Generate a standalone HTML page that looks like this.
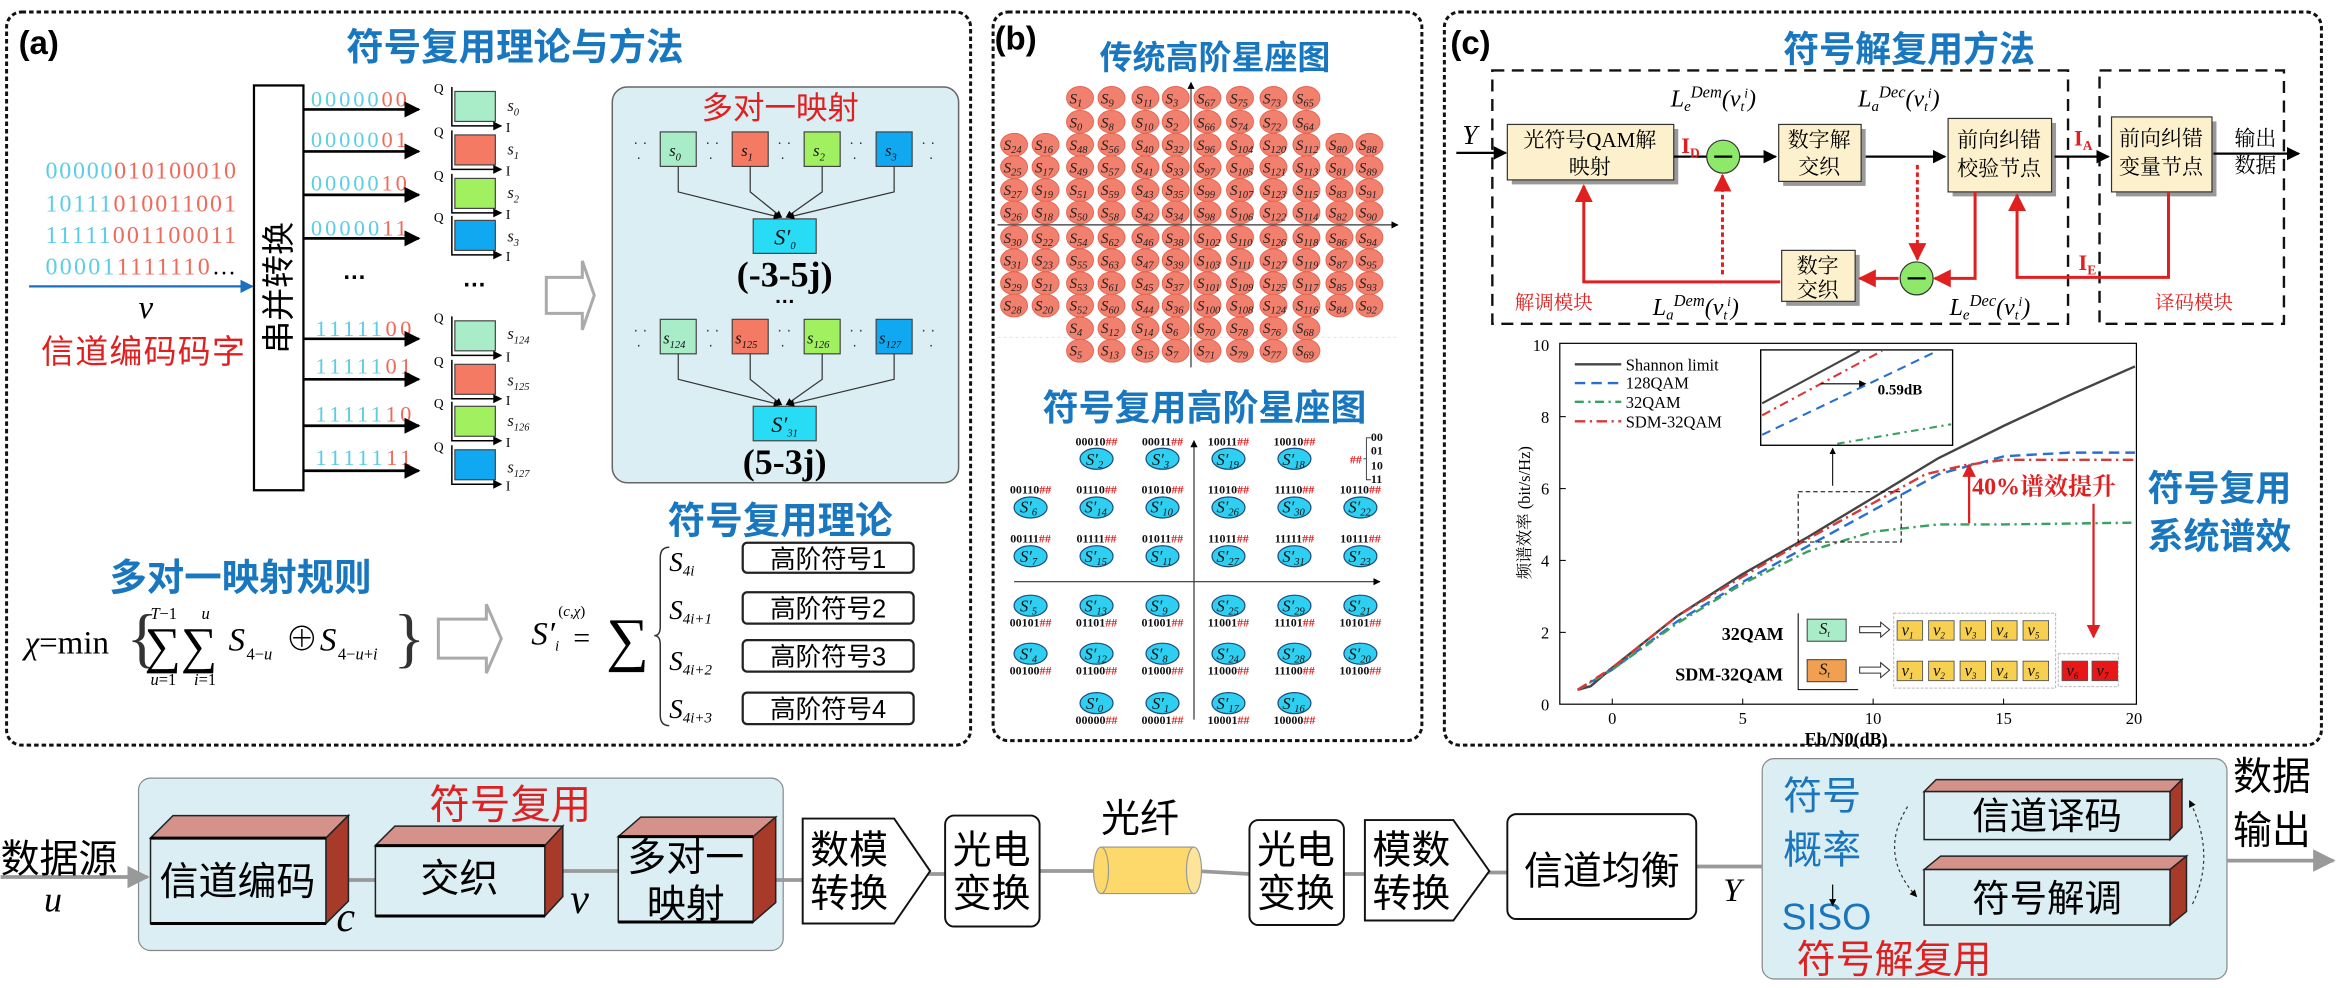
<!DOCTYPE html>
<html><head><meta charset="utf-8"><style>
html,body{margin:0;padding:0;background:#fff;}
svg{display:block}
.cj{font-family:"Liberation Sans","Noto Sans CJK SC",sans-serif}
.sf{font-family:"Liberation Serif","Noto Serif CJK SC","Noto Sans CJK SC",serif}
.bt{font-family:"Liberation Sans","Noto Sans CJK SC",sans-serif;font-weight:bold;fill:#1877bf}
.c1{font-family:"Liberation Serif",serif;font-style:italic;font-size:10px;fill:#222}
.c2{font-family:"Liberation Serif",serif;font-style:italic;font-size:11px;fill:#111}
.bb{font-family:"Liberation Serif",serif;font-weight:bold;font-size:8px;fill:#111}
.r{fill:#e02020}
.sub{font-size:7px}
</style></head><body>
<svg width="2340" height="988" viewBox="0 0 1560 659" xmlns="http://www.w3.org/2000/svg">
<defs>
<marker id="ab" viewBox="0 0 10 10" refX="9" refY="5" markerWidth="6" markerHeight="6" orient="auto"><path d="M0,0L10,5L0,10z" fill="#000"/></marker>
<marker id="ar" viewBox="0 0 10 10" refX="9" refY="5" markerWidth="6" markerHeight="6" orient="auto"><path d="M0,0L10,5L0,10z" fill="#e02020"/></marker>
<marker id="au" viewBox="0 0 10 10" refX="9" refY="5" markerWidth="6" markerHeight="6" orient="auto"><path d="M0,0L10,5L0,10z" fill="#1a6fc0"/></marker>
<marker id="ag" viewBox="0 0 10 10" refX="9" refY="5" markerWidth="6" markerHeight="6" orient="auto"><path d="M0,0L10,5L0,10z" fill="#999"/></marker>
</defs>

<!-- ===== Panel (a) ===== -->
<rect x="4" y="8" width="643" height="489" rx="10" fill="none" stroke="#111" stroke-width="2" stroke-dasharray="3,2"/>
<text x="12" y="36" class="cj" font-size="22" font-weight="bold">(a)</text>
<text x="343" y="40" class="bt" font-size="25" text-anchor="middle">符号复用理论与方法</text>

<g class="sf" font-size="16">
<text x="30" y="119" textLength="127"><tspan fill="#5ccde6">00000</tspan><tspan fill="#ef6a5a">010100010</tspan></text>
<text x="30" y="141" textLength="127"><tspan fill="#5ccde6">10111</tspan><tspan fill="#ef6a5a">010011001</tspan></text>
<text x="30" y="162" textLength="127"><tspan fill="#5ccde6">11111</tspan><tspan fill="#ef6a5a">001100011</tspan></text>
<text x="30" y="183" textLength="127"><tspan fill="#5ccde6">00001</tspan><tspan fill="#ef6a5a">1111110</tspan><tspan fill="#000">…</tspan></text>
</g>
<line x1="19" y1="191" x2="168" y2="191" stroke="#1a6fc0" stroke-width="1.5" marker-end="url(#au)"/>
<text x="92" y="212" class="sf" font-size="22" font-style="italic">v</text>
<text x="27" y="242" class="cj" font-size="22" fill="#e02020" textLength="136">信道编码码字</text>

<rect x="169" y="57" width="33" height="270" fill="#fff" stroke="#000" stroke-width="1.5"/>
<text transform="translate(193,192) rotate(-90)" class="cj" font-size="22" text-anchor="middle">串并转换</text>

<g class="sf" font-size="15">
<text x="207" y="71" textLength="64"><tspan fill="#5ccde6">00000</tspan><tspan fill="#ef6a5a">00</tspan></text>
<text x="207" y="98" textLength="64"><tspan fill="#5ccde6">00000</tspan><tspan fill="#ef6a5a">01</tspan></text>
<text x="207" y="127" textLength="64"><tspan fill="#5ccde6">00000</tspan><tspan fill="#ef6a5a">10</tspan></text>
<text x="207" y="157" textLength="64"><tspan fill="#5ccde6">00000</tspan><tspan fill="#ef6a5a">11</tspan></text>
<text x="210" y="224" textLength="64"><tspan fill="#5ccde6">11111</tspan><tspan fill="#ef6a5a">00</tspan></text>
<text x="210" y="249" textLength="64"><tspan fill="#5ccde6">11111</tspan><tspan fill="#ef6a5a">01</tspan></text>
<text x="210" y="281" textLength="64"><tspan fill="#5ccde6">11111</tspan><tspan fill="#ef6a5a">10</tspan></text>
<text x="210" y="310" textLength="64"><tspan fill="#5ccde6">11111</tspan><tspan fill="#ef6a5a">11</tspan></text>
</g>
<g stroke="#000" stroke-width="1.8" marker-end="url(#ab)">
<line x1="202" y1="73" x2="279" y2="73"/><line x1="202" y1="101" x2="279" y2="101"/>
<line x1="202" y1="130" x2="279" y2="130"/><line x1="202" y1="159" x2="279" y2="159"/>
<line x1="202" y1="226" x2="279" y2="226"/><line x1="202" y1="253" x2="279" y2="253"/>
<line x1="202" y1="284" x2="279" y2="284"/><line x1="202" y1="314" x2="279" y2="314"/>
</g>
<text x="228" y="186" font-size="16" font-weight="bold" class="cj">…</text>
<text x="308" y="191" font-size="16" font-weight="bold" class="cj">…</text>

<g stroke="#444" stroke-width="0.8">
<rect x="303" y="61" width="27" height="20" fill="#a8ecc8"/>
<rect x="303" y="90" width="27" height="20" fill="#f47a64"/>
<rect x="303" y="119" width="27" height="20" fill="#a0f060"/>
<rect x="303" y="147" width="27" height="20" fill="#10a8f0"/>
<rect x="303" y="214" width="27" height="20" fill="#a8ecc8"/>
<rect x="303" y="243" width="27" height="20" fill="#f47a64"/>
<rect x="303" y="271" width="27" height="20" fill="#a0f060"/>
<rect x="303" y="300" width="27" height="20" fill="#10a8f0"/>
</g>
<g stroke="#000" stroke-width="1" fill="none" marker-end="url(#ab)">
<path d="M301,58 V84 H334"/><path d="M301,87 V113 H334"/><path d="M301,116 V142 H334"/><path d="M301,144 V170 H334"/>
<path d="M301,211 V237 H334"/><path d="M301,240 V266 H334"/><path d="M301,268 V294 H334"/><path d="M301,297 V323 H334"/>
</g>
<g class="sf" font-size="9"><text x="289" y="62">Q</text><text x="289" y="91">Q</text><text x="289" y="120">Q</text><text x="289" y="148">Q</text>
<text x="289" y="215">Q</text><text x="289" y="244">Q</text><text x="289" y="272">Q</text><text x="289" y="301">Q</text>
<text x="337" y="88">I</text><text x="337" y="117">I</text><text x="337" y="146">I</text><text x="337" y="174">I</text>
<text x="337" y="241">I</text><text x="337" y="270">I</text><text x="337" y="298">I</text><text x="337" y="327">I</text></g>
<g class="c2"><text x="338" y="74">s<tspan class="sub" dy="3">0</tspan></text><text x="338" y="103">s<tspan class="sub" dy="3">1</tspan></text>
<text x="338" y="132">s<tspan class="sub" dy="3">2</tspan></text><text x="338" y="161">s<tspan class="sub" dy="3">3</tspan></text>
<text x="338" y="226">s<tspan class="sub" dy="3">124</tspan></text><text x="338" y="257">s<tspan class="sub" dy="3">125</tspan></text>
<text x="338" y="284">s<tspan class="sub" dy="3">126</tspan></text><text x="338" y="315">s<tspan class="sub" dy="3">127</tspan></text></g>

<polygon points="364,185 388,185 388,174 396,197 388,220 388,209 364,209" fill="#fff" stroke="#aaa" stroke-width="2"/>

<rect x="408" y="58" width="231" height="264" rx="10" fill="#dbeef4" stroke="#666" stroke-width="1"/>
<text x="520" y="79" class="cj" font-size="21" fill="#e02020" text-anchor="middle">多对一映射</text>
<g stroke="#444" stroke-width="0.8">
<rect x="440" y="88" width="24" height="23" fill="#a8ecc8"/><rect x="488" y="88" width="24" height="23" fill="#f47a64"/>
<rect x="536" y="88" width="24" height="23" fill="#a0f060"/><rect x="584" y="88" width="24" height="23" fill="#10a8f0"/>
<rect x="440" y="213" width="24" height="23" fill="#a8ecc8"/><rect x="488" y="213" width="24" height="23" fill="#f47a64"/>
<rect x="536" y="213" width="24" height="23" fill="#a0f060"/><rect x="584" y="213" width="24" height="23" fill="#10a8f0"/>
<rect x="502" y="146" width="42" height="23" fill="#28dcf6"/><rect x="502" y="271" width="42" height="23" fill="#28dcf6"/>
</g>
<g class="cj" font-size="10" fill="#333"><text x="422" y="98">· ·</text><text x="424" y="108">·</text><text x="470" y="98">· ·</text><text x="472" y="108">·</text><text x="518" y="98">· ·</text><text x="520" y="108">·</text><text x="566" y="98">· ·</text><text x="568" y="108">·</text><text x="614" y="98">· ·</text><text x="619" y="108">·</text>
<text x="422" y="223">· ·</text><text x="424" y="233">·</text><text x="470" y="223">· ·</text><text x="472" y="233">·</text><text x="518" y="223">· ·</text><text x="520" y="233">·</text><text x="566" y="223">· ·</text><text x="568" y="233">·</text><text x="614" y="223">· ·</text><text x="619" y="233">·</text></g>
<g class="c2" font-size="13"><text x="446" y="104">s<tspan class="sub" dy="3">0</tspan></text><text x="494" y="104">s<tspan class="sub" dy="3">1</tspan></text>
<text x="542" y="104">s<tspan class="sub" dy="3">2</tspan></text><text x="590" y="104">s<tspan class="sub" dy="3">3</tspan></text>
<text x="442" y="229">s<tspan class="sub" dy="3">124</tspan></text><text x="490" y="229">s<tspan class="sub" dy="3">125</tspan></text>
<text x="538" y="229">s<tspan class="sub" dy="3">126</tspan></text><text x="586" y="229">s<tspan class="sub" dy="3">127</tspan></text>
<text x="516" y="163" font-size="15">S′<tspan class="sub" dy="3">0</tspan></text><text x="514" y="288" font-size="15">S′<tspan class="sub" dy="3">31</tspan></text></g>
<g stroke="#333" stroke-width="0.8" fill="none" marker-end="url(#ab)">
<path d="M452,111 V128 L520,145"/><path d="M500,111 V128 L521,145"/><path d="M548,111 V128 L524,145"/><path d="M596,111 V128 L525,145"/>
<path d="M452,236 V253 L520,270"/><path d="M500,236 V253 L521,270"/><path d="M548,236 V253 L524,270"/><path d="M596,236 V253 L525,270"/>
</g>
<text x="523" y="191" class="sf" font-size="24" font-weight="bold" text-anchor="middle">(-3-5j)</text>
<text x="523" y="202" class="cj" font-size="14" font-weight="bold" text-anchor="middle">…</text>
<text x="523" y="316" class="sf" font-size="24" font-weight="bold" text-anchor="middle">(5-3j)</text>

<text x="520" y="356" class="bt" font-size="25" text-anchor="middle">符号复用理论</text>
<text x="160" y="394" class="bt" font-size="25" text-anchor="middle">多对一映射规则</text>

<g class="sf">
<text x="16" y="436" font-size="22"><tspan font-style="italic">χ</tspan>=min</text>
<text x="84" y="440" font-size="44" fill="#333">{</text>
<text x="96" y="442" font-size="34">∑∑</text>
<text x="100" y="413" font-size="11" font-style="italic">T</text><text x="106" y="413" font-size="11">−1</text>
<text x="134" y="413" font-size="11" font-style="italic">u</text>
<text x="100" y="457" font-size="11"><tspan font-style="italic">u</tspan>=1</text>
<text x="129" y="457" font-size="11"><tspan font-style="italic">i</tspan>=1</text>
<text x="152" y="434" font-size="22" font-style="italic">S</text><text x="164" y="440" font-size="11">4−<tspan font-style="italic">u</tspan></text>
<text x="190" y="434" font-size="22">⊕</text>
<text x="213" y="434" font-size="22" font-style="italic">S</text><text x="225" y="440" font-size="11">4−<tspan font-style="italic">u</tspan>+<tspan font-style="italic">i</tspan></text>
<text x="262" y="440" font-size="44" fill="#333">}</text>
</g>
<polygon points="292,413 324,413 324,403 334,426 324,449 324,439 292,439" fill="#fff" stroke="#aaa" stroke-width="2"/>

<g class="sf">
<text x="354" y="430" font-size="22" font-style="italic">S′<tspan font-size="10" dy="4">i</tspan></text>
<text x="372" y="411" font-size="10">(<tspan font-style="italic">c</tspan>,<tspan font-style="italic">χ</tspan>)</text>
<text x="382" y="432" font-size="20">=</text>
<text x="404" y="440" font-size="40">∑</text>
<path d="M446,365 Q440,365 440,372 V418 Q440,424 436,424 Q440,424 440,430 V477 Q440,484 446,484" fill="none" stroke="#333" stroke-width="1"/>
<text x="446" y="381" font-size="18" font-style="italic">S<tspan font-size="10" dy="3">4i</tspan></text>
<text x="446" y="413" font-size="18" font-style="italic">S<tspan font-size="10" dy="3">4i+1</tspan></text>
<text x="446" y="447" font-size="18" font-style="italic">S<tspan font-size="10" dy="3">4i+2</tspan></text>
<text x="446" y="479" font-size="18" font-style="italic">S<tspan font-size="10" dy="3">4i+3</tspan></text>
</g>
<g fill="#fff" stroke="#222" stroke-width="1.5">
<rect x="495" y="362" width="114" height="20" rx="3"/><rect x="495" y="395" width="114" height="21" rx="3"/>
<rect x="495" y="427" width="114" height="21" rx="3"/><rect x="495" y="462" width="114" height="21" rx="3"/></g>
<g class="cj" font-size="17" text-anchor="middle"><text x="552" y="379">高阶符号1</text><text x="552" y="412">高阶符号2</text><text x="552" y="444">高阶符号3</text><text x="552" y="479">高阶符号4</text></g>

<!-- ===== Panel (b) ===== -->
<rect x="662" y="8" width="286" height="486" rx="10" fill="none" stroke="#111" stroke-width="2" stroke-dasharray="3,2"/>
<text x="663" y="33" class="cj" font-size="22" font-weight="bold">(b)</text>
<text x="810" y="46" class="bt" font-size="22" text-anchor="middle">传统高阶星座图</text>
<line x1="665" y1="150" x2="932" y2="150" stroke="#333" stroke-width="0.8" marker-end="url(#ab)"/>
<line x1="794" y1="245" x2="794" y2="55" stroke="#333" stroke-width="0.8" marker-end="url(#ab)"/>
<line x1="665" y1="225" x2="932" y2="225" stroke="#ddd" stroke-width="0.6" stroke-dasharray="2,2"/>
<g fill="#f2806e" stroke="#e4624e" stroke-width="0.6">
<ellipse cx="676" cy="96.5" rx="9" ry="7.6"/><ellipse cx="676" cy="111.5" rx="9" ry="7.6"/><ellipse cx="676" cy="126.8" rx="9" ry="7.6"/><ellipse cx="676" cy="141.7" rx="9" ry="7.6"/><ellipse cx="676" cy="158.3" rx="9" ry="7.6"/><ellipse cx="676" cy="173.6" rx="9" ry="7.6"/><ellipse cx="676" cy="188.9" rx="9" ry="7.6"/><ellipse cx="676" cy="203.8" rx="9" ry="7.6"/>
<ellipse cx="697" cy="96.5" rx="9" ry="7.6"/><ellipse cx="697" cy="111.5" rx="9" ry="7.6"/><ellipse cx="697" cy="126.8" rx="9" ry="7.6"/><ellipse cx="697" cy="141.7" rx="9" ry="7.6"/><ellipse cx="697" cy="158.3" rx="9" ry="7.6"/><ellipse cx="697" cy="173.6" rx="9" ry="7.6"/><ellipse cx="697" cy="188.9" rx="9" ry="7.6"/><ellipse cx="697" cy="203.8" rx="9" ry="7.6"/>
<ellipse cx="893" cy="96.5" rx="9" ry="7.6"/><ellipse cx="893" cy="111.5" rx="9" ry="7.6"/><ellipse cx="893" cy="126.8" rx="9" ry="7.6"/><ellipse cx="893" cy="141.7" rx="9" ry="7.6"/><ellipse cx="893" cy="158.3" rx="9" ry="7.6"/><ellipse cx="893" cy="173.6" rx="9" ry="7.6"/><ellipse cx="893" cy="188.9" rx="9" ry="7.6"/><ellipse cx="893" cy="203.8" rx="9" ry="7.6"/>
<ellipse cx="913" cy="96.5" rx="9" ry="7.6"/><ellipse cx="913" cy="111.5" rx="9" ry="7.6"/><ellipse cx="913" cy="126.8" rx="9" ry="7.6"/><ellipse cx="913" cy="141.7" rx="9" ry="7.6"/><ellipse cx="913" cy="158.3" rx="9" ry="7.6"/><ellipse cx="913" cy="173.6" rx="9" ry="7.6"/><ellipse cx="913" cy="188.9" rx="9" ry="7.6"/><ellipse cx="913" cy="203.8" rx="9" ry="7.6"/>
</g>
<g fill="#f2806e" stroke="#e4624e" stroke-width="0.6">
<g id="colA"><ellipse cx="720" cy="65.3" rx="9" ry="7.6"/><ellipse cx="720" cy="81.2" rx="9" ry="7.6"/><ellipse cx="720" cy="96.5" rx="9" ry="7.6"/><ellipse cx="720" cy="111.5" rx="9" ry="7.6"/><ellipse cx="720" cy="126.8" rx="9" ry="7.6"/><ellipse cx="720" cy="141.7" rx="9" ry="7.6"/><ellipse cx="720" cy="158.3" rx="9" ry="7.6"/><ellipse cx="720" cy="173.6" rx="9" ry="7.6"/><ellipse cx="720" cy="188.9" rx="9" ry="7.6"/><ellipse cx="720" cy="203.8" rx="9" ry="7.6"/><ellipse cx="720" cy="219.1" rx="9" ry="7.6"/><ellipse cx="720" cy="234" rx="9" ry="7.6"/></g>
<use href="#colA" x="21"/><use href="#colA" x="43.6"/><use href="#colA" x="63.8"/><use href="#colA" x="85"/><use href="#colA" x="106.7"/><use href="#colA" x="129"/><use href="#colA" x="151"/>
</g>
<g class="c1">
<text x="669" y="100">S<tspan class="sub" dy="2">24</tspan></text><text x="669" y="115">S<tspan class="sub" dy="2">25</tspan></text><text x="669" y="130">S<tspan class="sub" dy="2">27</tspan></text><text x="669" y="145">S<tspan class="sub" dy="2">26</tspan></text><text x="669" y="162">S<tspan class="sub" dy="2">30</tspan></text><text x="669" y="177">S<tspan class="sub" dy="2">31</tspan></text><text x="669" y="192">S<tspan class="sub" dy="2">29</tspan></text><text x="669" y="207">S<tspan class="sub" dy="2">28</tspan></text>
<text x="690" y="100">S<tspan class="sub" dy="2">16</tspan></text><text x="690" y="115">S<tspan class="sub" dy="2">17</tspan></text><text x="690" y="130">S<tspan class="sub" dy="2">19</tspan></text><text x="690" y="145">S<tspan class="sub" dy="2">18</tspan></text><text x="690" y="162">S<tspan class="sub" dy="2">22</tspan></text><text x="690" y="177">S<tspan class="sub" dy="2">23</tspan></text><text x="690" y="192">S<tspan class="sub" dy="2">21</tspan></text><text x="690" y="207">S<tspan class="sub" dy="2">20</tspan></text>
<text x="713" y="69">S<tspan class="sub" dy="2">1</tspan></text><text x="713" y="85">S<tspan class="sub" dy="2">0</tspan></text><text x="713" y="100">S<tspan class="sub" dy="2">48</tspan></text><text x="713" y="115">S<tspan class="sub" dy="2">49</tspan></text><text x="713" y="130">S<tspan class="sub" dy="2">51</tspan></text><text x="713" y="145">S<tspan class="sub" dy="2">50</tspan></text><text x="713" y="162">S<tspan class="sub" dy="2">54</tspan></text><text x="713" y="177">S<tspan class="sub" dy="2">55</tspan></text><text x="713" y="192">S<tspan class="sub" dy="2">53</tspan></text><text x="713" y="207">S<tspan class="sub" dy="2">52</tspan></text><text x="713" y="222">S<tspan class="sub" dy="2">4</tspan></text><text x="713" y="237">S<tspan class="sub" dy="2">5</tspan></text>
<text x="734" y="69">S<tspan class="sub" dy="2">9</tspan></text><text x="734" y="85">S<tspan class="sub" dy="2">8</tspan></text><text x="734" y="100">S<tspan class="sub" dy="2">56</tspan></text><text x="734" y="115">S<tspan class="sub" dy="2">57</tspan></text><text x="734" y="130">S<tspan class="sub" dy="2">59</tspan></text><text x="734" y="145">S<tspan class="sub" dy="2">58</tspan></text><text x="734" y="162">S<tspan class="sub" dy="2">62</tspan></text><text x="734" y="177">S<tspan class="sub" dy="2">63</tspan></text><text x="734" y="192">S<tspan class="sub" dy="2">61</tspan></text><text x="734" y="207">S<tspan class="sub" dy="2">60</tspan></text><text x="734" y="222">S<tspan class="sub" dy="2">12</tspan></text><text x="734" y="237">S<tspan class="sub" dy="2">13</tspan></text>
<text x="757" y="69">S<tspan class="sub" dy="2">11</tspan></text><text x="757" y="85">S<tspan class="sub" dy="2">10</tspan></text><text x="757" y="100">S<tspan class="sub" dy="2">40</tspan></text><text x="757" y="115">S<tspan class="sub" dy="2">41</tspan></text><text x="757" y="130">S<tspan class="sub" dy="2">43</tspan></text><text x="757" y="145">S<tspan class="sub" dy="2">42</tspan></text><text x="757" y="162">S<tspan class="sub" dy="2">46</tspan></text><text x="757" y="177">S<tspan class="sub" dy="2">47</tspan></text><text x="757" y="192">S<tspan class="sub" dy="2">45</tspan></text><text x="757" y="207">S<tspan class="sub" dy="2">44</tspan></text><text x="757" y="222">S<tspan class="sub" dy="2">14</tspan></text><text x="757" y="237">S<tspan class="sub" dy="2">15</tspan></text>
<text x="777" y="69">S<tspan class="sub" dy="2">3</tspan></text><text x="777" y="85">S<tspan class="sub" dy="2">2</tspan></text><text x="777" y="100">S<tspan class="sub" dy="2">32</tspan></text><text x="777" y="115">S<tspan class="sub" dy="2">33</tspan></text><text x="777" y="130">S<tspan class="sub" dy="2">35</tspan></text><text x="777" y="145">S<tspan class="sub" dy="2">34</tspan></text><text x="777" y="162">S<tspan class="sub" dy="2">38</tspan></text><text x="777" y="177">S<tspan class="sub" dy="2">39</tspan></text><text x="777" y="192">S<tspan class="sub" dy="2">37</tspan></text><text x="777" y="207">S<tspan class="sub" dy="2">36</tspan></text><text x="777" y="222">S<tspan class="sub" dy="2">6</tspan></text><text x="777" y="237">S<tspan class="sub" dy="2">7</tspan></text>
<text x="798" y="69">S<tspan class="sub" dy="2">67</tspan></text><text x="798" y="85">S<tspan class="sub" dy="2">66</tspan></text><text x="798" y="100">S<tspan class="sub" dy="2">96</tspan></text><text x="798" y="115">S<tspan class="sub" dy="2">97</tspan></text><text x="798" y="130">S<tspan class="sub" dy="2">99</tspan></text><text x="798" y="145">S<tspan class="sub" dy="2">98</tspan></text><text x="798" y="162">S<tspan class="sub" dy="2">102</tspan></text><text x="798" y="177">S<tspan class="sub" dy="2">103</tspan></text><text x="798" y="192">S<tspan class="sub" dy="2">101</tspan></text><text x="798" y="207">S<tspan class="sub" dy="2">100</tspan></text><text x="798" y="222">S<tspan class="sub" dy="2">70</tspan></text><text x="798" y="237">S<tspan class="sub" dy="2">71</tspan></text>
<text x="820" y="69">S<tspan class="sub" dy="2">75</tspan></text><text x="820" y="85">S<tspan class="sub" dy="2">74</tspan></text><text x="820" y="100">S<tspan class="sub" dy="2">104</tspan></text><text x="820" y="115">S<tspan class="sub" dy="2">105</tspan></text><text x="820" y="130">S<tspan class="sub" dy="2">107</tspan></text><text x="820" y="145">S<tspan class="sub" dy="2">106</tspan></text><text x="820" y="162">S<tspan class="sub" dy="2">110</tspan></text><text x="820" y="177">S<tspan class="sub" dy="2">111</tspan></text><text x="820" y="192">S<tspan class="sub" dy="2">109</tspan></text><text x="820" y="207">S<tspan class="sub" dy="2">108</tspan></text><text x="820" y="222">S<tspan class="sub" dy="2">78</tspan></text><text x="820" y="237">S<tspan class="sub" dy="2">79</tspan></text>
<text x="842" y="69">S<tspan class="sub" dy="2">73</tspan></text><text x="842" y="85">S<tspan class="sub" dy="2">72</tspan></text><text x="842" y="100">S<tspan class="sub" dy="2">120</tspan></text><text x="842" y="115">S<tspan class="sub" dy="2">121</tspan></text><text x="842" y="130">S<tspan class="sub" dy="2">123</tspan></text><text x="842" y="145">S<tspan class="sub" dy="2">122</tspan></text><text x="842" y="162">S<tspan class="sub" dy="2">126</tspan></text><text x="842" y="177">S<tspan class="sub" dy="2">127</tspan></text><text x="842" y="192">S<tspan class="sub" dy="2">125</tspan></text><text x="842" y="207">S<tspan class="sub" dy="2">124</tspan></text><text x="842" y="222">S<tspan class="sub" dy="2">76</tspan></text><text x="842" y="237">S<tspan class="sub" dy="2">77</tspan></text>
<text x="864" y="69">S<tspan class="sub" dy="2">65</tspan></text><text x="864" y="85">S<tspan class="sub" dy="2">64</tspan></text><text x="864" y="100">S<tspan class="sub" dy="2">112</tspan></text><text x="864" y="115">S<tspan class="sub" dy="2">113</tspan></text><text x="864" y="130">S<tspan class="sub" dy="2">115</tspan></text><text x="864" y="145">S<tspan class="sub" dy="2">114</tspan></text><text x="864" y="162">S<tspan class="sub" dy="2">118</tspan></text><text x="864" y="177">S<tspan class="sub" dy="2">119</tspan></text><text x="864" y="192">S<tspan class="sub" dy="2">117</tspan></text><text x="864" y="207">S<tspan class="sub" dy="2">116</tspan></text><text x="864" y="222">S<tspan class="sub" dy="2">68</tspan></text><text x="864" y="237">S<tspan class="sub" dy="2">69</tspan></text>
<text x="886" y="100">S<tspan class="sub" dy="2">80</tspan></text><text x="886" y="115">S<tspan class="sub" dy="2">81</tspan></text><text x="886" y="130">S<tspan class="sub" dy="2">83</tspan></text><text x="886" y="145">S<tspan class="sub" dy="2">82</tspan></text><text x="886" y="162">S<tspan class="sub" dy="2">86</tspan></text><text x="886" y="177">S<tspan class="sub" dy="2">87</tspan></text><text x="886" y="192">S<tspan class="sub" dy="2">85</tspan></text><text x="886" y="207">S<tspan class="sub" dy="2">84</tspan></text>
<text x="906" y="100">S<tspan class="sub" dy="2">88</tspan></text><text x="906" y="115">S<tspan class="sub" dy="2">89</tspan></text><text x="906" y="130">S<tspan class="sub" dy="2">91</tspan></text><text x="906" y="145">S<tspan class="sub" dy="2">90</tspan></text><text x="906" y="162">S<tspan class="sub" dy="2">94</tspan></text><text x="906" y="177">S<tspan class="sub" dy="2">95</tspan></text><text x="906" y="192">S<tspan class="sub" dy="2">93</tspan></text><text x="906" y="207">S<tspan class="sub" dy="2">92</tspan></text>
</g>

<text x="803" y="280" class="bt" font-size="24" text-anchor="middle">符号复用高阶星座图</text>
<line x1="676" y1="388" x2="920" y2="388" stroke="#333" stroke-width="0.8" marker-end="url(#ab)"/>
<line x1="796" y1="480" x2="796" y2="294" stroke="#333" stroke-width="0.8" marker-end="url(#ab)"/>
<g fill="#2ecff0" stroke="#1a4a80" stroke-width="0.8">
<ellipse cx="731" cy="306" rx="11" ry="7"/><ellipse cx="775" cy="306" rx="11" ry="7"/><ellipse cx="819" cy="306" rx="11" ry="7"/><ellipse cx="863" cy="306" rx="11" ry="7"/>
<ellipse cx="687" cy="338.5" rx="11" ry="7"/><ellipse cx="731" cy="338.5" rx="11" ry="7"/><ellipse cx="775" cy="338.5" rx="11" ry="7"/><ellipse cx="819" cy="338.5" rx="11" ry="7"/><ellipse cx="863" cy="338.5" rx="11" ry="7"/><ellipse cx="907" cy="338.5" rx="11" ry="7"/>
<ellipse cx="687" cy="371" rx="11" ry="7"/><ellipse cx="731" cy="371" rx="11" ry="7"/><ellipse cx="775" cy="371" rx="11" ry="7"/><ellipse cx="819" cy="371" rx="11" ry="7"/><ellipse cx="863" cy="371" rx="11" ry="7"/><ellipse cx="907" cy="371" rx="11" ry="7"/>
<ellipse cx="687" cy="404" rx="11" ry="7"/><ellipse cx="731" cy="404" rx="11" ry="7"/><ellipse cx="775" cy="404" rx="11" ry="7"/><ellipse cx="819" cy="404" rx="11" ry="7"/><ellipse cx="863" cy="404" rx="11" ry="7"/><ellipse cx="907" cy="404" rx="11" ry="7"/>
<ellipse cx="687" cy="436" rx="11" ry="7"/><ellipse cx="731" cy="436" rx="11" ry="7"/><ellipse cx="775" cy="436" rx="11" ry="7"/><ellipse cx="819" cy="436" rx="11" ry="7"/><ellipse cx="863" cy="436" rx="11" ry="7"/><ellipse cx="907" cy="436" rx="11" ry="7"/>
<ellipse cx="731" cy="469" rx="11" ry="7"/><ellipse cx="775" cy="469" rx="11" ry="7"/><ellipse cx="819" cy="469" rx="11" ry="7"/><ellipse cx="863" cy="469" rx="11" ry="7"/>
</g>
<g class="c2">
<text x="724" y="310">S′<tspan class="sub" dy="2">2</tspan></text><text x="768" y="310">S′<tspan class="sub" dy="2">3</tspan></text><text x="811" y="310">S′<tspan class="sub" dy="2">19</tspan></text><text x="855" y="310">S′<tspan class="sub" dy="2">18</tspan></text>
<text x="680" y="342">S′<tspan class="sub" dy="2">6</tspan></text><text x="723" y="342">S′<tspan class="sub" dy="2">14</tspan></text><text x="767" y="342">S′<tspan class="sub" dy="2">10</tspan></text><text x="811" y="342">S′<tspan class="sub" dy="2">26</tspan></text><text x="855" y="342">S′<tspan class="sub" dy="2">30</tspan></text><text x="899" y="342">S′<tspan class="sub" dy="2">22</tspan></text>
<text x="680" y="375">S′<tspan class="sub" dy="2">7</tspan></text><text x="723" y="375">S′<tspan class="sub" dy="2">15</tspan></text><text x="767" y="375">S′<tspan class="sub" dy="2">11</tspan></text><text x="811" y="375">S′<tspan class="sub" dy="2">27</tspan></text><text x="855" y="375">S′<tspan class="sub" dy="2">31</tspan></text><text x="899" y="375">S′<tspan class="sub" dy="2">23</tspan></text>
<text x="680" y="408">S′<tspan class="sub" dy="2">5</tspan></text><text x="723" y="408">S′<tspan class="sub" dy="2">13</tspan></text><text x="767" y="408">S′<tspan class="sub" dy="2">9</tspan></text><text x="811" y="408">S′<tspan class="sub" dy="2">25</tspan></text><text x="855" y="408">S′<tspan class="sub" dy="2">29</tspan></text><text x="899" y="408">S′<tspan class="sub" dy="2">21</tspan></text>
<text x="680" y="440">S′<tspan class="sub" dy="2">4</tspan></text><text x="723" y="440">S′<tspan class="sub" dy="2">12</tspan></text><text x="767" y="440">S′<tspan class="sub" dy="2">8</tspan></text><text x="811" y="440">S′<tspan class="sub" dy="2">24</tspan></text><text x="855" y="440">S′<tspan class="sub" dy="2">28</tspan></text><text x="899" y="440">S′<tspan class="sub" dy="2">20</tspan></text>
<text x="724" y="473">S′<tspan class="sub" dy="2">0</tspan></text><text x="768" y="473">S′<tspan class="sub" dy="2">1</tspan></text><text x="811" y="473">S′<tspan class="sub" dy="2">17</tspan></text><text x="855" y="473">S′<tspan class="sub" dy="2">16</tspan></text>
</g>
<g class="bb" text-anchor="middle">
<text x="731" y="297">00010<tspan class="r">##</tspan></text><text x="775" y="297">00011<tspan class="r">##</tspan></text><text x="819" y="297">10011<tspan class="r">##</tspan></text><text x="863" y="297">10010<tspan class="r">##</tspan></text>
<text x="687" y="329">00110<tspan class="r">##</tspan></text><text x="731" y="329">01110<tspan class="r">##</tspan></text><text x="775" y="329">01010<tspan class="r">##</tspan></text><text x="819" y="329">11010<tspan class="r">##</tspan></text><text x="863" y="329">11110<tspan class="r">##</tspan></text><text x="907" y="329">10110<tspan class="r">##</tspan></text>
<text x="687" y="362">00111<tspan class="r">##</tspan></text><text x="731" y="362">01111<tspan class="r">##</tspan></text><text x="775" y="362">01011<tspan class="r">##</tspan></text><text x="819" y="362">11011<tspan class="r">##</tspan></text><text x="863" y="362">11111<tspan class="r">##</tspan></text><text x="907" y="362">10111<tspan class="r">##</tspan></text>
<text x="687" y="418">00101<tspan class="r">##</tspan></text><text x="731" y="418">01101<tspan class="r">##</tspan></text><text x="775" y="418">01001<tspan class="r">##</tspan></text><text x="819" y="418">11001<tspan class="r">##</tspan></text><text x="863" y="418">11101<tspan class="r">##</tspan></text><text x="907" y="418">10101<tspan class="r">##</tspan></text>
<text x="687" y="450">00100<tspan class="r">##</tspan></text><text x="731" y="450">01100<tspan class="r">##</tspan></text><text x="775" y="450">01000<tspan class="r">##</tspan></text><text x="819" y="450">11000<tspan class="r">##</tspan></text><text x="863" y="450">11100<tspan class="r">##</tspan></text><text x="907" y="450">10100<tspan class="r">##</tspan></text>
<text x="731" y="483">00000<tspan class="r">##</tspan></text><text x="775" y="483">00001<tspan class="r">##</tspan></text><text x="819" y="483">10001<tspan class="r">##</tspan></text><text x="863" y="483">10000<tspan class="r">##</tspan></text>
</g>
<text x="900" y="309" class="bb r">##</text>
<path d="M914,292 H911 V320 H914 M909,306 H911" fill="none" stroke="#333" stroke-width="0.6"/>
<g class="bb"><text x="914" y="294">00</text><text x="914" y="303">01</text><text x="914" y="313">10</text><text x="914" y="322">11</text></g>

<!-- ===== Panel (c) ===== -->
<rect x="963" y="8" width="585" height="489" rx="10" fill="none" stroke="#111" stroke-width="2" stroke-dasharray="3,2"/>
<text x="967" y="36" class="cj" font-size="22" font-weight="bold">(c)</text>
<text x="1273" y="41" class="bt" font-size="24" text-anchor="middle">符号解复用方法</text>
<rect x="995" y="47" width="384" height="169" fill="none" stroke="#111" stroke-width="1.6" stroke-dasharray="8,5"/>
<rect x="1400" y="47" width="123" height="169" fill="none" stroke="#111" stroke-width="1.6" stroke-dasharray="8,5"/>
<g fill="#999"><rect x="1008" y="86" width="111" height="37"/><rect x="1189" y="86" width="55" height="38"/><rect x="1302" y="82" width="69" height="49"/><rect x="1411" y="81" width="67" height="50"/><rect x="1191" y="170" width="49" height="34"/></g>
<g fill="#fdf0cc" stroke="#333" stroke-width="0.8">
<rect x="1005" y="83" width="111" height="37"/><rect x="1186" y="83" width="55" height="38"/><rect x="1299" y="79" width="69" height="49"/><rect x="1408" y="78" width="67" height="50"/><rect x="1188" y="167" width="49" height="34"/></g>
<g class="sf" font-size="14" text-anchor="middle">
<text x="1060" y="98">光符号QAM解</text><text x="1060" y="116">映射</text>
<text x="1213" y="98">数字解</text><text x="1213" y="116">交织</text>
<text x="1333" y="98">前向纠错</text><text x="1333" y="117">校验节点</text>
<text x="1441" y="97">前向纠错</text><text x="1441" y="116">变量节点</text>
<text x="1212" y="182">数字</text><text x="1212" y="198">交织</text>
<text x="1504" y="97">输出</text><text x="1504" y="115">数据</text>
</g>
<text x="975" y="96" class="sf" font-size="18" font-style="italic">Y</text>
<g stroke="#000" stroke-width="1.5" marker-end="url(#ab)">
<line x1="971" y1="102" x2="1004" y2="102"/><line x1="1160" y1="104.5" x2="1184" y2="104.5"/>
<line x1="1244" y1="104.5" x2="1297" y2="104.5"/><line x1="1370" y1="104.5" x2="1406" y2="104.5"/>
<line x1="1476" y1="102.5" x2="1533" y2="102.5"/></g>
<line x1="1116" y1="104.5" x2="1138" y2="104.5" stroke="#000" stroke-width="1.5"/>
<circle cx="1149" cy="104.5" r="11" fill="#8ee86a" stroke="#333" stroke-width="0.8"/>
<line x1="1143" y1="104.5" x2="1155" y2="104.5" stroke="#000" stroke-width="1.5"/>
<circle cx="1278" cy="185.7" r="11" fill="#8ee86a" stroke="#333" stroke-width="0.8"/>
<line x1="1272" y1="185.7" x2="1284" y2="185.7" stroke="#000" stroke-width="1.5"/>
<text x="1121" y="102" class="sf" font-size="15" font-weight="bold" fill="#e02020">I<tspan font-size="9" dy="3">D</tspan></text>
<text x="1383" y="97" class="sf" font-size="15" font-weight="bold" fill="#e02020">I<tspan font-size="9" dy="3">A</tspan></text>
<text x="1386" y="180" class="sf" font-size="15" font-weight="bold" fill="#e02020">I<tspan font-size="9" dy="3">E</tspan></text>
<g stroke="#e02020" stroke-width="2" fill="none" marker-end="url(#ar)">
<line x1="1148.5" y1="183" x2="1148.5" y2="117" stroke-dasharray="3,2"/>
<line x1="1278.5" y1="110" x2="1278.5" y2="173" stroke-dasharray="3,2"/>
<path d="M1317,128 V185.7 H1290"/>
<path d="M1266,185.7 H1240"/>
<path d="M1187,188 H1056 V124"/>
<path d="M1446,128 V185 H1345 V130"/>
</g>
<g class="sf" font-size="16" font-style="italic">
<text x="1114" y="71">L<tspan font-size="10" dy="3">e</tspan><tspan font-size="11" dy="-9">Dem</tspan><tspan dy="6">(v</tspan><tspan font-size="9" dy="3">t</tspan><tspan font-size="9" dy="-9">i</tspan><tspan dy="6">)</tspan></text>
<text x="1239" y="71">L<tspan font-size="10" dy="3">a</tspan><tspan font-size="11" dy="-9">Dec</tspan><tspan dy="6">(v</tspan><tspan font-size="9" dy="3">t</tspan><tspan font-size="9" dy="-9">i</tspan><tspan dy="6">)</tspan></text>
<text x="1102" y="210">L<tspan font-size="10" dy="3">a</tspan><tspan font-size="11" dy="-9">Dem</tspan><tspan dy="6">(v</tspan><tspan font-size="9" dy="3">t</tspan><tspan font-size="9" dy="-9">i</tspan><tspan dy="6">)</tspan></text>
<text x="1300" y="210">L<tspan font-size="10" dy="3">e</tspan><tspan font-size="11" dy="-9">Dec</tspan><tspan dy="6">(v</tspan><tspan font-size="9" dy="3">t</tspan><tspan font-size="9" dy="-9">i</tspan><tspan dy="6">)</tspan></text>
</g>
<text x="1010" y="206" class="sf" font-size="13" fill="#e02020">解调模块</text>
<text x="1437" y="206" class="sf" font-size="13" fill="#e02020">译码模块</text>

<rect x="1040" y="229" width="384.6" height="240.7" fill="none" stroke="#000" stroke-width="0.8"/>
<g class="sf" font-size="11" text-anchor="end">
<text x="1033" y="234">10</text><text x="1033" y="282">8</text><text x="1033" y="330">6</text><text x="1033" y="378">4</text><text x="1033" y="426">2</text><text x="1033" y="474">0</text></g>
<g class="sf" font-size="11" text-anchor="middle">
<text x="1075" y="483">0</text><text x="1162" y="483">5</text><text x="1249" y="483">10</text><text x="1336" y="483">15</text><text x="1423" y="483">20</text></g>
<g stroke="#000" stroke-width="0.7">
<line x1="1075" y1="470" x2="1075" y2="466"/><line x1="1162" y1="470" x2="1162" y2="466"/><line x1="1249" y1="470" x2="1249" y2="466"/><line x1="1336" y1="470" x2="1336" y2="466"/>
<line x1="1040" y1="421.8" x2="1044" y2="421.8"/><line x1="1040" y1="373.8" x2="1044" y2="373.8"/><line x1="1040" y1="325.9" x2="1044" y2="325.9"/><line x1="1040" y1="277.9" x2="1044" y2="277.9"/></g>
<text x="1231" y="497" class="sf" font-size="12" font-weight="bold" text-anchor="middle">Eb/N0(dB)</text>
<text transform="translate(1020,342) rotate(-90)" class="sf" font-size="11" text-anchor="middle">频谱效率 (bit/s/Hz)</text>
<g fill="none" stroke-width="1.6" stroke-linejoin="round">
<polyline stroke="#444" points="1051.9,460.1 1060.6,457.7 1074.6,445.7 1118.2,411 1161.9,382.9 1205.5,358.2 1249.1,331.9 1292.7,305.5 1336.4,283.9 1380,263.6 1423.6,244.4"/>
<polyline stroke="#2a6fd0" stroke-dasharray="7,4" points="1051.9,460.1 1074.6,446.9 1118.2,414.6 1161.9,388.2 1205.5,364.2 1249.1,340.3 1292.7,316.3 1336.4,304.3 1380,301.9 1423.6,301.9"/>
<polyline stroke="#3aa060" stroke-dasharray="6,3,1.5,3" points="1051.9,460.1 1074.6,446.9 1118.2,415.8 1161.9,389.4 1205.5,367.8 1249.1,354.6 1292.7,349.8 1336.4,349.8 1423.6,348.6"/>
<polyline stroke="#d83838" stroke-dasharray="7,3,1.5,3" points="1051.9,460.1 1074.6,445.7 1118.2,411 1161.9,384.6 1205.5,359.4 1249.1,335.5 1284,316.3 1310.2,310.3 1336.4,306.7 1423.6,306.7"/>
</g>
<g stroke-width="1.6">
<line x1="1050" y1="243" x2="1081" y2="243" stroke="#444"/>
<line x1="1050" y1="255.5" x2="1081" y2="255.5" stroke="#2a6fd0" stroke-dasharray="7,4"/>
<line x1="1050" y1="268" x2="1081" y2="268" stroke="#3aa060" stroke-dasharray="6,3,1.5,3"/>
<line x1="1050" y1="281" x2="1081" y2="281" stroke="#d83838" stroke-dasharray="7,3,1.5,3"/></g>
<g class="sf" font-size="11"><text x="1084" y="247">Shannon limit</text><text x="1084" y="259">128QAM</text><text x="1084" y="272">32QAM</text><text x="1084" y="285">SDM-32QAM</text></g>
<rect x="1174" y="233.4" width="128" height="63.6" fill="#fff" stroke="#000" stroke-width="0.9"/>
<g fill="none" stroke-width="1.4">
<line x1="1175" y1="269" x2="1240" y2="234" stroke="#444"/>
<line x1="1175" y1="277" x2="1255" y2="234" stroke="#d83838" stroke-dasharray="6,3,1.5,3"/>
<line x1="1175" y1="290" x2="1292" y2="234" stroke="#2a6fd0" stroke-dasharray="6,4"/>
<line x1="1225" y1="296" x2="1301" y2="283" stroke="#3aa060" stroke-dasharray="5,3,1.5,3"/></g>
<line x1="1214" y1="256" x2="1244" y2="256" stroke="#000" stroke-width="0.8" marker-end="url(#ab)"/>
<text x="1252" y="263" class="sf" font-size="10" font-weight="bold">0.59dB</text>
<rect x="1199" y="328" width="68.7" height="33.5" fill="none" stroke="#000" stroke-width="0.7" stroke-dasharray="3,2"/>
<line x1="1222" y1="324" x2="1222" y2="299" stroke="#000" stroke-width="0.7" marker-end="url(#ab)"/>
<line x1="1313" y1="349" x2="1313" y2="310" stroke="#e02020" stroke-width="1.5" marker-end="url(#ar)"/>
<text x="1315" y="330" class="sf" font-size="16" font-weight="bold" fill="#e02020">40%谱效提升</text>
<line x1="1396" y1="336" x2="1396" y2="425" stroke="#e02020" stroke-width="1.5" marker-end="url(#ar)"/>
<text x="1432" y="334" class="bt" font-size="24">符号复用</text>
<text x="1432" y="366" class="bt" font-size="24">系统谱效</text>
<text x="1148" y="427" class="sf" font-size="12" font-weight="bold">32QAM</text>
<text x="1117" y="454" class="sf" font-size="12" font-weight="bold">SDM-32QAM</text>
<path d="M1199,409 V460 H1239" fill="none" stroke="#000" stroke-width="0.7"/>
<rect x="1205" y="413" width="26" height="14.7" fill="#a8ecc8" stroke="#444" stroke-width="0.7"/>
<rect x="1205" y="440" width="26" height="14.7" fill="#f0a050" stroke="#444" stroke-width="0.7"/>
<g class="c2" font-size="10"><text x="1213" y="423">S<tspan font-size="6" dy="2">t</tspan></text><text x="1213" y="450">S<tspan font-size="6" dy="2">t</tspan></text></g>
<polygon points="1240,418 1254,418 1254,415 1260,420 1254,425 1254,422 1240,422" fill="#fff" stroke="#333" stroke-width="0.7"/>
<polygon points="1240,445 1254,445 1254,442 1260,447 1254,452 1254,449 1240,449" fill="#fff" stroke="#333" stroke-width="0.7"/>
<rect x="1262.7" y="409" width="108" height="50" fill="none" stroke="#bbb" stroke-width="0.7" stroke-dasharray="2,1"/>
<rect x="1372.5" y="436" width="40" height="22" fill="none" stroke="#bbb" stroke-width="0.7" stroke-dasharray="2,1"/>
<g stroke="#555" stroke-width="0.6">
<rect x="1265" y="414" width="17" height="13" fill="#f8d050"/><rect x="1286" y="414" width="17" height="13" fill="#f8d050"/><rect x="1307" y="414" width="17" height="13" fill="#f8d050"/><rect x="1328" y="414" width="17" height="13" fill="#f8d050"/><rect x="1349" y="414" width="17" height="13" fill="#f8d050"/>
<rect x="1265" y="441" width="17" height="13" fill="#f8d050"/><rect x="1286" y="441" width="17" height="13" fill="#f8d050"/><rect x="1307" y="441" width="17" height="13" fill="#f8d050"/><rect x="1328" y="441" width="17" height="13" fill="#f8d050"/><rect x="1349" y="441" width="17" height="13" fill="#f8d050"/>
<rect x="1375" y="441" width="17" height="13" fill="#e81818"/><rect x="1395" y="441" width="17" height="13" fill="#e81818"/></g>
<g class="c2" font-size="9"><text x="1268" y="424">v<tspan font-size="6" dy="2">1</tspan></text><text x="1289" y="424">v<tspan font-size="6" dy="2">2</tspan></text><text x="1310" y="424">v<tspan font-size="6" dy="2">3</tspan></text><text x="1331" y="424">v<tspan font-size="6" dy="2">4</tspan></text><text x="1352" y="424">v<tspan font-size="6" dy="2">5</tspan></text>
<text x="1268" y="451">v<tspan font-size="6" dy="2">1</tspan></text><text x="1289" y="451">v<tspan font-size="6" dy="2">2</tspan></text><text x="1310" y="451">v<tspan font-size="6" dy="2">3</tspan></text><text x="1331" y="451">v<tspan font-size="6" dy="2">4</tspan></text><text x="1352" y="451">v<tspan font-size="6" dy="2">5</tspan></text>
<text x="1378" y="451">v<tspan font-size="6" dy="2">6</tspan></text><text x="1398" y="451">v<tspan font-size="6" dy="2">7</tspan></text></g>

<!-- ===== Bottom flow ===== -->
<rect x="92" y="519" width="430" height="115" rx="8" fill="#daeef3" stroke="#888" stroke-width="0.8"/>
<rect x="1175" y="506" width="310" height="147" rx="8" fill="#daeef3" stroke="#888" stroke-width="0.8"/>
<g stroke="#999" stroke-width="2.5" fill="none">
<line x1="0" y1="585" x2="98" y2="585" marker-end="url(#ag)"/>
<line x1="216" y1="587" x2="250" y2="587"/><line x1="363" y1="581" x2="412" y2="581"/>
<line x1="517" y1="587" x2="535" y2="587"/><line x1="612" y1="583" x2="630" y2="583"/>
<line x1="693" y1="581" x2="732" y2="581"/><line x1="798" y1="581" x2="833" y2="583"/>
<line x1="896" y1="583" x2="910" y2="583"/><line x1="985" y1="582" x2="1005" y2="582"/>
<line x1="1131" y1="578" x2="1175" y2="578"/>
<line x1="1485" y1="574" x2="1556" y2="574" marker-end="url(#ag)"/>
</g>
<text x="0" y="582" class="cj" font-size="26">数据源</text>
<text x="29" y="608" class="sf" font-size="24" font-style="italic">u</text>
<text x="340" y="546" class="cj" font-size="27" fill="#e02020" text-anchor="middle">符号复用</text>
<g stroke="#222" stroke-width="1">
<polygon points="100,559 115,544 232,544 217,559" fill="#d4928a"/>
<polygon points="217,559 232,544 232,601 217,616" fill="#a83a2a"/>
<rect x="100" y="559" width="117" height="57" fill="#daeef3"/>
<polygon points="250,564 263,551 375,551 363,564" fill="#d4928a"/>
<polygon points="363,564 375,551 375,598 363,611" fill="#a83a2a"/>
<rect x="250" y="564" width="113" height="47" fill="#daeef3"/>
<polygon points="412,558 427,545 517,545 502,558" fill="#d4928a"/>
<polygon points="502,558 517,545 517,602 502,615" fill="#a83a2a"/>
<rect x="412" y="558" width="90" height="57" fill="#daeef3"/>
<polygon points="1283,528 1291,520 1455,520 1447,528" fill="#d4928a"/>
<polygon points="1447,528 1455,520 1455,552 1447,560" fill="#a83a2a"/>
<rect x="1283" y="528" width="164" height="32" fill="#daeef3"/>
<polygon points="1283,580 1294,571 1458,571 1447,580" fill="#d4928a"/>
<polygon points="1447,580 1458,571 1458,608 1447,617" fill="#a83a2a"/>
<rect x="1283" y="580" width="164" height="37" fill="#daeef3"/>
</g>
<g stroke="#000" stroke-width="2"><line x1="100" y1="559" x2="217" y2="559"/><line x1="100" y1="616" x2="217" y2="616"/><line x1="250" y1="564" x2="363" y2="564"/><line x1="250" y1="611" x2="363" y2="611"/><line x1="412" y1="558" x2="502" y2="558"/><line x1="412" y1="615" x2="502" y2="615"/></g>
<g class="cj" font-size="26" text-anchor="middle">
<text x="158" y="597">信道编码</text><text x="306" y="595">交织</text>
<text x="457" y="581">多对一</text><text x="457" y="612">映射</text>
<text x="1365" y="553" font-size="25">信道译码</text><text x="1365" y="608" font-size="25">符号解调</text>
</g>
<text x="224" y="621" class="sf" font-size="28" font-style="italic">c</text>
<text x="380" y="609" class="sf" font-size="28" font-style="italic">v</text>
<g fill="#fff" stroke="#111" stroke-width="1.3">
<polygon points="535,546 596,546 620,581 596,616 535,616"/>
<rect x="630" y="544" width="63" height="74" rx="6"/>
<rect x="833" y="547" width="63" height="70" rx="6"/>
<polygon points="910,547 969,547 993,581 969,614 910,614"/>
<rect x="1005" y="543" width="126" height="70" rx="6"/>
</g>
<g class="cj" font-size="26" text-anchor="middle">
<text x="566" y="576">数模</text><text x="566" y="605">转换</text>
<text x="661" y="576">光电</text><text x="661" y="605">变换</text>
<text x="864" y="576">光电</text><text x="864" y="605">变换</text>
<text x="941" y="576">模数</text><text x="941" y="605">转换</text>
<text x="1068" y="590">信道均衡</text>
<text x="760" y="555">光纤</text>
</g>
<rect x="734" y="565" width="62" height="31" fill="#fcd96a" stroke="#999" stroke-width="0.8"/>
<ellipse cx="734" cy="580.5" rx="5" ry="15.5" fill="#fcd96a" stroke="#999" stroke-width="0.8"/>
<ellipse cx="796" cy="580.5" rx="5" ry="15.5" fill="#fce59a" stroke="#999" stroke-width="0.8"/>
<text x="1149" y="601" class="sf" font-size="22" font-style="italic">Y</text>
<g class="cj" font-size="26" fill="#1a75bc"><text x="1189" y="540">符号</text><text x="1189" y="576">概率</text><text x="1188" y="620" font-size="25">SISO</text></g>
<line x1="1222" y1="590" x2="1222" y2="604" stroke="#000" stroke-width="0.8" marker-end="url(#ab)"/>
<text x="1198" y="649" class="cj" font-size="26" fill="#e02020">符号解复用</text>
<path d="M1272,538 Q1252,570 1278,598" fill="none" stroke="#333" stroke-width="0.8" stroke-dasharray="2,2" marker-end="url(#ab)"/>
<path d="M1462,603 Q1478,570 1460,534" fill="none" stroke="#333" stroke-width="0.8" stroke-dasharray="2,2" marker-end="url(#ab)"/>
<g class="cj" font-size="26"><text x="1489" y="527">数据</text><text x="1489" y="563">输出</text></g>
</svg>
</body></html>
